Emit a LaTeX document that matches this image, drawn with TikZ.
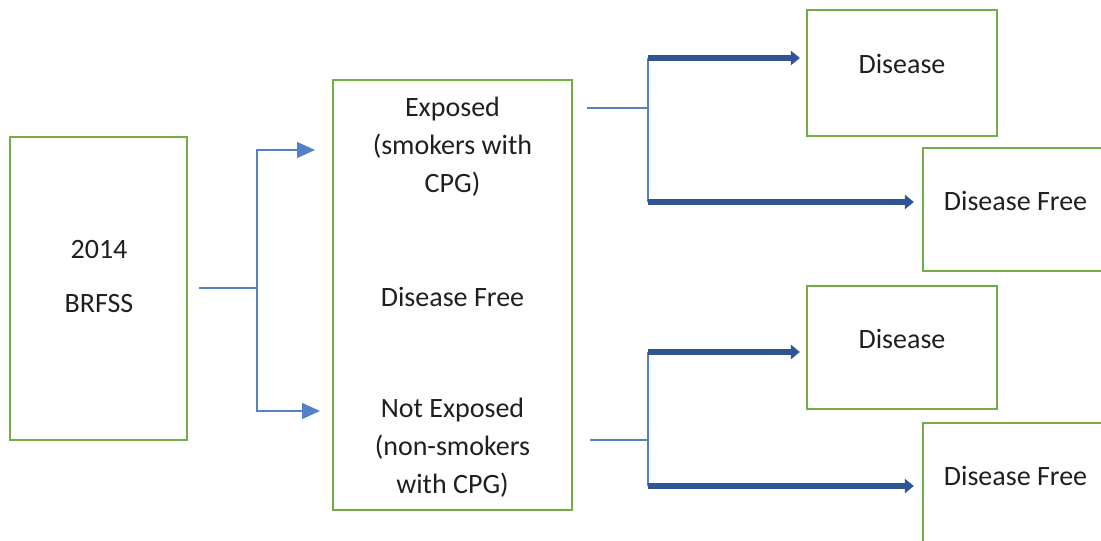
\documentclass[tikz,border=0pt]{standalone}
\usepackage{fontspec}
\setmainfont{Carlito}
\usepackage{xcolor}
\definecolor{boxgreen}{RGB}{112,173,71}
\definecolor{lineblue}{RGB}{84,128,198}
\definecolor{darkblue}{RGB}{47,85,151}
\usetikzlibrary{arrows.meta}

\begin{document}
\begin{tikzpicture}[x=1pt, y=-1pt,
box/.style={draw=boxgreen, line width=2.2pt, rectangle, inner sep=0pt},
txt/.style={font=\fontsize{28}{38}\selectfont, align=center, text=black!88},
thinlink/.style={draw=lineblue, line width=1.3pt},
thicklink/.style={draw=darkblue, line width=5.5pt, -{Triangle[length=9pt,width=14pt]}}]
\useasboundingbox (0,0) rectangle (1101,541);
\clip (0,0) rectangle (1101,541);
\node[box, minimum width=177, minimum height=303] (brfss) at (98.5,288.5) {};
\node[txt] (year) at (99,277) {2014\\[16pt]BRFSS};
\node[box, minimum width=239, minimum height=430] (grp) at (452.5,295) {};
\foreach \nm/\y/\lbl in {expo/147/{Exposed\\(smokers with\\CPG)}, dfree/297/{Disease Free}, nexpo/448/{Not Exposed\\(non-smokers\\with CPG)}}{
\node[txt] (\nm) at (452.5,\y) {\lbl};
}
\foreach \nm/\x/\y/\w/\h/\lbl in {dis1/902/73/190/126/Disease, free1/1015.5/209.5/185/123/Disease Free, dis2/902/347.5/190/123/Disease, free2/1015.5/484.5/185/123/Disease Free}{
\node[box, minimum width=\w, minimum height=\h, label={[txt,yshift=9]center:\lbl}] (\nm) at (\x,\y) {};
}
\coordinate (j1) at (257,288);
\coordinate (a1) at (315,150);
\coordinate (a2) at (320,411);
\draw[thinlink] ([xshift=11]brfss.east |- j1) -- (j1);
\foreach \t in {a1,a2}{
\draw[thinlink, -{Triangle[length=18pt,width=16pt]}] (j1) |- (\t);
}
\foreach \s/\y/\top/\bot/\up/\dn in {587/108/58/202/dis1/free1, 590/440/352/486/dis2/free2}{
\coordinate (st) at (\s,\y);
\coordinate (tp) at (648,\top);
\coordinate (bt) at (648,\bot);
\draw[thinlink] (st) -- (st -| tp);
\draw[thinlink] (tp) -- (bt);
\draw[thicklink, shorten >=6pt] (tp) -- (\up.west |- tp);
\draw[thicklink, shorten >=8pt] (bt) -- (\dn.west |- bt);
}
\end{tikzpicture}
\end{document}
